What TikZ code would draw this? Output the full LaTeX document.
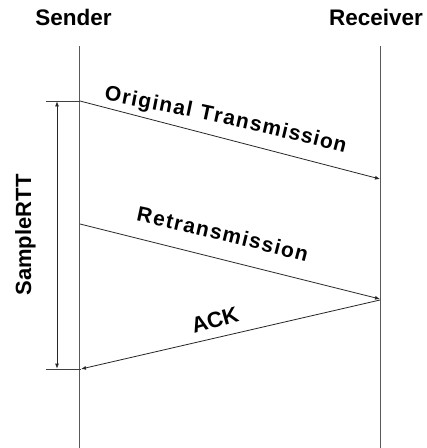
\documentclass[tikz,border=0pt]{standalone}
\usepackage{fontspec}
\setmainfont{Liberation Sans}
\usetikzlibrary{arrows.meta}
\tikzset{
  title/.style={font=\bfseries\fontsize{22.5}{24}\selectfont, anchor=base, inner sep=0pt},
  timeline/.style={draw=black!65, line width=0.9pt},
  msg/.style={draw=black!85, line width=0.8pt, -{Latex[length=5pt,width=4pt]}},
  tick/.style={draw=black!75, line width=0.8pt},
  rtt/.style={draw=black!85, line width=0.8pt, {Latex[length=5pt,width=4pt]}-{Latex[length=5pt,width=4pt]}},
  lbl/.style={font=\bfseries\fontsize{22}{24}\selectfont, inner sep=0pt},
  ch/.style={sloped, anchor=base, inner sep=0pt, font=\bfseries\fontsize{21}{24}\selectfont}
}
\begin{document}
\begin{tikzpicture}[x=1pt,y=1pt]
\useasboundingbox (0,0) rectangle (427,-448);
% titles
\node[title] (snd) at (73.5,-25) {Sender};
\node[title] (rcv) at (376,-25) {Receiver};
% timelines
\coordinate (sTop) at (79.5,-46);
\coordinate (sBot) at (79.5,-448);
\coordinate (rTop) at (380,-46);
\coordinate (rBot) at (380,-448);
\draw[timeline] (sTop) -- (sBot);
\draw[timeline] (rTop) -- (rBot);
% message points
\coordinate (o1) at (80,-101);
\coordinate (o2) at (380,-179);
\coordinate (r1) at (80,-224);
\coordinate (r2) at (380,-299);
\coordinate (a1) at (380,-300);
\coordinate (a2) at (81,-369);
\draw[msg] (o1) -- (o2);
\draw[msg] (r1) -- (r2);
\draw[msg] (a1) -- (a2);
% ticks and SampleRTT
\coordinate (t1a) at (46,-101);
\coordinate (t2a) at (46,-369);
\draw[tick] (t1a) -- (o1);
\draw[tick] (t2a) -- (a2);
\coordinate (m1) at (57,-101.4);
\coordinate (m2) at (57,-368.6);
\draw[rtt] (m1) -- (m2);
\node[lbl, rotate=90, anchor=base] (srtt) at (31,-235) {SampleRTT};
\node[lbl, rotate=16] (ack) at (215,-320) {ACK};
% curved label: Original Transmission
\path (104,-100) .. controls (184,-115) and (268,-133) .. (344,-153)
  node[ch, pos=0.0332] (ot1) {O}
  node[ch, pos=0.0880] (ot2) {r}
  node[ch, pos=0.1214] (ot3) {i}
  node[ch, pos=0.1643] (ot4) {g}
  node[ch, pos=0.2073] (ot5) {i}
  node[ch, pos=0.2502] (ot6) {n}
  node[ch, pos=0.3050] (ot7) {a}
  node[ch, pos=0.3455] (ot8) {l}
  node[ch, pos=0.4171] (ot9) {T}
  node[ch, pos=0.4648] (ot10) {r}
  node[ch, pos=0.5101] (ot11) {a}
  node[ch, pos=0.5649] (ot12) {n}
  node[ch, pos=0.6196] (ot13) {s}
  node[ch, pos=0.6863] (ot14) {m}
  node[ch, pos=0.7411] (ot15) {i}
  node[ch, pos=0.7816] (ot16) {s}
  node[ch, pos=0.8341] (ot17) {s}
  node[ch, pos=0.8746] (ot18) {i}
  node[ch, pos=0.9175] (ot19) {o}
  node[ch, pos=0.9747] (ot20) {n};
% curved label: Retransmission
\path (136,-221) .. controls (193,-233) and (250,-247) .. (306,-262)
  node[ch, pos=0.0433] (rt1) {R}
  node[ch, pos=0.1277] (rt2) {e}
  node[ch, pos=0.1887] (rt3) {t}
  node[ch, pos=0.2397] (rt4) {r}
  node[ch, pos=0.3041] (rt5) {a}
  node[ch, pos=0.3817] (rt6) {n}
  node[ch, pos=0.4594] (rt7) {s}
  node[ch, pos=0.5538] (rt8) {m}
  node[ch, pos=0.6315] (rt9) {i}
  node[ch, pos=0.6892] (rt10) {s}
  node[ch, pos=0.7636] (rt11) {s}
  node[ch, pos=0.8213] (rt12) {i}
  node[ch, pos=0.8823] (rt13) {o}
  node[ch, pos=0.9633] (rt14) {n};
\end{tikzpicture}
\end{document}
